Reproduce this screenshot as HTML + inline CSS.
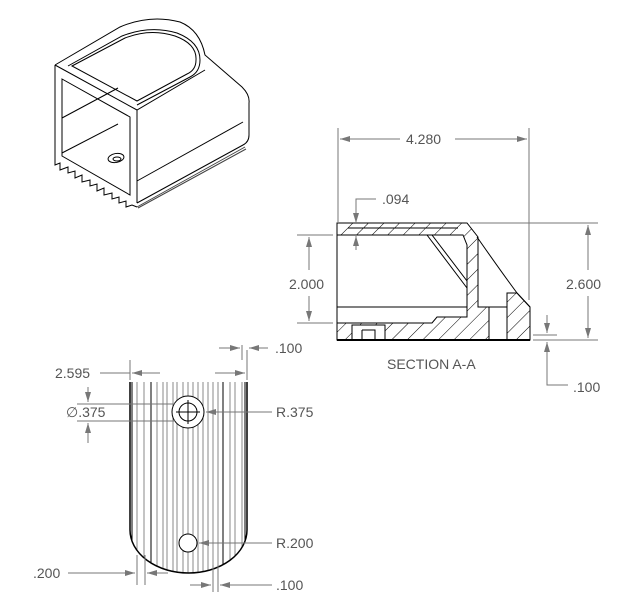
<!DOCTYPE html>
<html><head><meta charset="utf-8"><style>
html,body{margin:0;padding:0;background:#fff;}
svg{display:block;}
text{font-family:"Liberation Sans",sans-serif;font-size:14px;fill:#555;}
</style></head><body>
<svg width="626" height="612" viewBox="0 0 626 612" xmlns="http://www.w3.org/2000/svg">
<defs>
<pattern id="h" patternUnits="userSpaceOnUse" width="11" height="11" patternTransform="rotate(45)">
<line x1="0" y1="0" x2="0" y2="11" stroke="#000" stroke-width="1"/>
</pattern>
<marker id="a" viewBox="0 0 10 6" refX="10" refY="3" markerWidth="10" markerHeight="6" orient="auto-start-reverse" markerUnits="userSpaceOnUse">
<path d="M0,0 L10,3 L0,6 z" fill="#777"/>
</marker>
<clipPath id="bv"><path d="M130,382 H247 V530 A58.5,43 0 0 1 130,530 Z"/></clipPath>
</defs>

<!-- ISO VIEW -->
<g fill="none" stroke="#000" stroke-width="1">
<path d="M55,65 L120,27 Q150,14 180,22 Q200,30 205,55 L242,87 Q250,95 249,103 L249,135 Q249,142 243,145 L137,203"/>
<path d="M55,65 L137,110 L205,70"/>
<path d="M55,65 L55,158"/>
<path d="M137,110 L137,203"/>
<path d="M62,79 L130,117 L130,195 L62,156 Z"/>
<path d="M62,118 L118,88"/>
<path d="M62,153 L118,124"/>
<path d="M72,66 L125,38 Q150,28 175,36 Q197,44 196,60 Q196,70 187,74 L137,101 Z"/>
<path d="M68,66 L122,36 Q150,25 177,33 Q200,42 200,60 Q200,72 190,77 L137,105"/>
<path d="M243,122 L137,181"/>
<path d="M245,147 L137,207 M246,149 L138,208" stroke="#444"/>
<path d="M55,158 L55,165 L60,163 L60,170 L68,167 L68,173 L75,171 L75,178 L82,175 L82,182 L90,180 L90,186 L97,184 L97,191 L104,188 L104,195 L112,193 L112,199 L119,197 L119,203 L126,201 L126,207 L132,205 L137,207"/>
<ellipse cx="116" cy="158" rx="8" ry="4.5" transform="rotate(-10 116 158)"/>
<ellipse cx="117" cy="159" rx="4" ry="2"/>
</g>

<!-- SECTION A-A -->
<g stroke="#000" stroke-width="1">
<path fill="url(#h)" fill-rule="evenodd" d="M337,223 H467 L478,237 V307 H489 V340 H337 Z M337,235 H463 L467,245 V317 H437 L432,323 H337 Z"/>
<path fill="url(#h)" d="M507,293 H517 L530,307 V340 H507 Z"/>
<path fill="#fff" d="M352,325 H385 V340 H352 Z"/>
<path fill="none" d="M362,330 H375 V340 M362,330 V340 M348,228 H458 M337,307 H467 M427,235 L467,288 M432,235 L467,281"/>
<path fill="none" d="M477,237 Q500,270 517,293 L530,307 M478,307 H507 M489,307 V340 M507,300 V340"/>
<path fill="none" stroke-width="2" d="M337,340 H530"/>
<path fill="none" d="M337,223 V340"/>
</g>
<g stroke="#777" stroke-width="1" fill="none">
<path d="M338,128 V222 M529,128 V300"/>
<path d="M455,139 H527" marker-end="url(#a)"/>
<path d="M400,139 H340" marker-end="url(#a)"/>
<path d="M356,214 V199 H376"/>
<path d="M356,210 V223" marker-end="url(#a)"/>
<path d="M356,250 V236" marker-end="url(#a)"/>
<path d="M297,235 H333 M297,323 H333"/>
<path d="M309,270 V237" marker-end="url(#a)"/>
<path d="M309,296 V321" marker-end="url(#a)"/>
<path d="M470,223 H598 M533,340 H598"/>
<path d="M588,270 V225" marker-end="url(#a)"/>
<path d="M588,296 V338" marker-end="url(#a)"/>
<path d="M533,335 H557"/>
<path d="M547,315 V333" marker-end="url(#a)"/>
<path d="M547,360 V342" marker-end="url(#a)"/>
<path d="M547,360 V385 H568"/>
</g>
<text x="406" y="144">4.280</text>
<text x="382" y="204">.094</text>
<text x="289" y="289">2.000</text>
<text x="566" y="289">2.600</text>
<text x="573" y="392">.100</text>
<text x="387" y="369">SECTION A-A</text>

<!-- BOTTOM VIEW -->
<g clip-path="url(#bv)" stroke="#888" stroke-width="1">
<path d="M137,382V580 M144,382V580 M157,382V580 M163,382V580 M167,382V580 M173,382V580 M177,382V580 M183,382V580 M188,382V580 M193,382V580 M198,382V580 M203,382V580 M208,382V580 M213,382V580 M218,382V580 M230,382V580 M235,382V580 M242,382V580"/>
<path stroke="#000" d="M151,382V580 M223,382V580 M132,382V580 M245,382V580"/>
</g>
<path d="M130,382 V530 A58.5,43 0 0 0 247,530 V382" fill="none" stroke="#000" stroke-width="1.5"/>
<circle cx="188" cy="412" r="16" fill="#fff" stroke="#000"/>
<circle cx="188" cy="412" r="9" fill="none" stroke="#000"/>
<path d="M188,400 V424 M176,412 H200" stroke="#000"/>
<circle cx="188" cy="543" r="9" fill="#fff" stroke="#000"/>
<g stroke="#777" stroke-width="1" fill="none">
<path d="M130,360 V380 M247,350 V380 M242,345 V360"/>
<path d="M100,373 H130"/>
<path d="M160,373 H132" marker-end="url(#a)"/>
<path d="M215,373 H245" marker-end="url(#a)"/>
<path d="M219,348 H240" marker-end="url(#a)"/>
<path d="M268,348 H249" marker-end="url(#a)"/>
<path d="M77,404 H175 M77,421 H175"/>
<path d="M88,387 V402" marker-end="url(#a)"/>
<path d="M88,443 V423" marker-end="url(#a)"/>
<path d="M272,412 H206" marker-end="url(#a)"/>
<path d="M272,543 H199" marker-end="url(#a)"/>
<path d="M137,555 V585 M145,555 V585 M213,565 V592 M218,565 V592"/>
<path d="M68,573 H135" marker-end="url(#a)"/>
<path d="M168,573 H147" marker-end="url(#a)"/>
<path d="M190,585 H211" marker-end="url(#a)"/>
<path d="M272,585 H220" marker-end="url(#a)"/>
</g>
<text x="55" y="378">2.595</text>
<text x="275" y="353">.100</text>
<text x="66" y="417">∅.375</text>
<text x="276" y="417">R.375</text>
<text x="276" y="548">R.200</text>
<text x="33" y="578">.200</text>
<text x="276" y="590">.100</text>
</svg>
</body></html>
